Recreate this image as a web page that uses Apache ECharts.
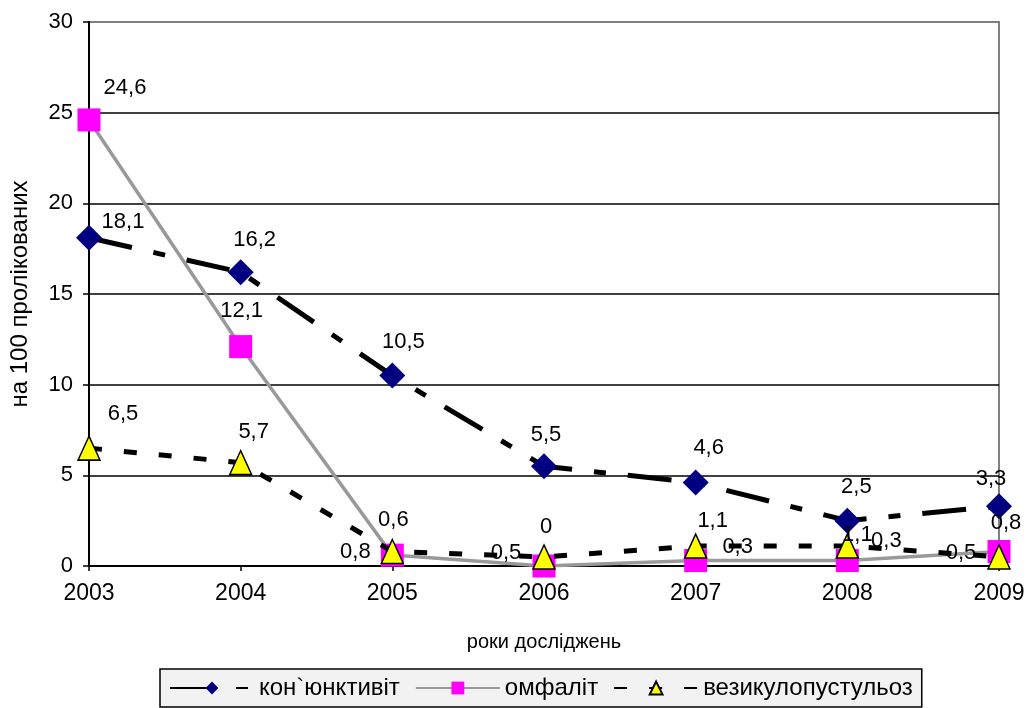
<!DOCTYPE html>
<html>
<head>
<meta charset="utf-8">
<script src="https://cdn.jsdelivr.net/npm/echarts@6/dist/echarts.min.js"></script>
<style>html,body{margin:0;padding:0;background:#fff}#c{width:1031px;height:708px}</style>
</head>
<body>
<div id="c"></div>
<script>
const years = ['2003','2004','2005','2006','2007','2008','2009'];
const seriesNames = ['кон`юнктивіт', 'омфаліт', 'везикулопустульоз'];
const konj = [18.1, 16.2, 10.5, 5.5, 4.6, 2.5, 3.3];
const omf = [24.6, 12.1, 0.6, 0, 0.3, 0.3, 0.8];
const vez = [6.5, 5.7, 0.8, 0.5, 1.1, 1.1, 0.5];
const yTicks = [0, 5, 10, 15, 20, 25, 30];

// label offsets (styling only)
const konjOff = [[34,-16],[14,-32],[11,-34],[2,-31],[13,-35],[9,-34],[-8,-27]];
const omfOff  = [[36,-32],[1,-36],[1,-35],[2,-39],[42,-14],[39,-20],[7,-29]];
const vezOff  = [[34,-34],[13,-31],[-37,0],[-38,-4],[17,-25],[10,-11],[-38,-4]];

const FONT = '"Liberation Sans", Arial, sans-serif';
const fmt = v => String(v).replace('.', ',');

function items(vals, offs) {
  return vals.map((v, i) => ({
    value: v,
    label: { show: true, position: 'inside', offset: offs[i], formatter: fmt(v),
             color: '#000', fontSize: 22, fontFamily: FONT }
  }));
}

const chart = echarts.init(document.getElementById('c'), null, {renderer: 'canvas'});
chart.setOption({
  animation: false,
  backgroundColor: '#fff',
  textStyle: { fontFamily: FONT },
  grid: { left: 88, right: 32, top: 22, bottom: 142, show: true, borderColor: '#808080', borderWidth: 2 },
  legend: {
    bottom: 1, left: 160,
    data: seriesNames,
    backgroundColor: '#f2f2f2', borderColor: '#000', borderWidth: 1.5,
    padding: [7, 9], itemGap: 15, itemWidth: 84, itemHeight: 16,
    textStyle: { fontSize: 24, color: '#000', fontFamily: FONT }
  },
  xAxis: {
    type: 'category', data: years, boundaryGap: false,
    name: 'роки досліджень', nameLocation: 'middle', nameGap: 66,
    nameTextStyle: { fontSize: 20, color: '#000', fontFamily: FONT },
    axisLine: { lineStyle: { color: '#000', width: 2 } },
    axisTick: { show: true, length: 5, inside: false, alignWithLabel: true, lineStyle: { color: '#000', width: 1.5 } },
    axisLabel: { fontSize: 23, color: '#000', margin: 16, fontFamily: FONT },
    splitLine: { show: false }
  },
  yAxis: {
    type: 'value', min: 0, max: 30, interval: 5,
    name: 'на 100 пролікованих', nameLocation: 'middle', nameGap: 57, nameRotate: 90,
    nameTextStyle: { fontSize: 24, color: '#000', fontFamily: FONT },
    axisLine: { show: true, lineStyle: { color: '#000', width: 2 } },
    axisTick: { show: true, length: 6, lineStyle: { color: '#000', width: 1.5 } },
    axisLabel: { fontSize: 22, color: '#000', margin: 16, fontFamily: FONT,
                 formatter: v => yTicks.includes(v) ? String(v) : '' },
    splitLine: { show: true, lineStyle: { color: ['#000','#000','#000','#000','#000','#000','#808080'], width: 1.5 } }
  },
  series: [
    {
      name: seriesNames[0], type: 'line', data: items(konj, konjOff),
      symbol: 'diamond', symbolSize: 26,
      itemStyle: { color: '#000080', borderWidth: 0 },
      lineStyle: { color: '#000', width: 5, type: [44, 22, 12, 22], cap: 'butt' },
      z: 3
    },
    {
      name: seriesNames[1], type: 'line', data: items(omf, omfOff),
      symbol: 'rect', symbolSize: 23,
      itemStyle: { color: '#ff00ff', borderWidth: 0 },
      lineStyle: { color: '#999999', width: 3.5, type: 'solid' },
      z: 4
    },
    {
      name: seriesNames[2], type: 'line', data: items(vez, vezOff),
      symbol: 'triangle', symbolSize: [22, 24],
      itemStyle: { color: '#ffff00', borderColor: '#000', borderWidth: 1.5 },
      lineStyle: { color: '#000', width: 5, type: [13, 22], cap: 'butt' },
      z: 5
    }
  ]
});
</script>
</body>
</html>
